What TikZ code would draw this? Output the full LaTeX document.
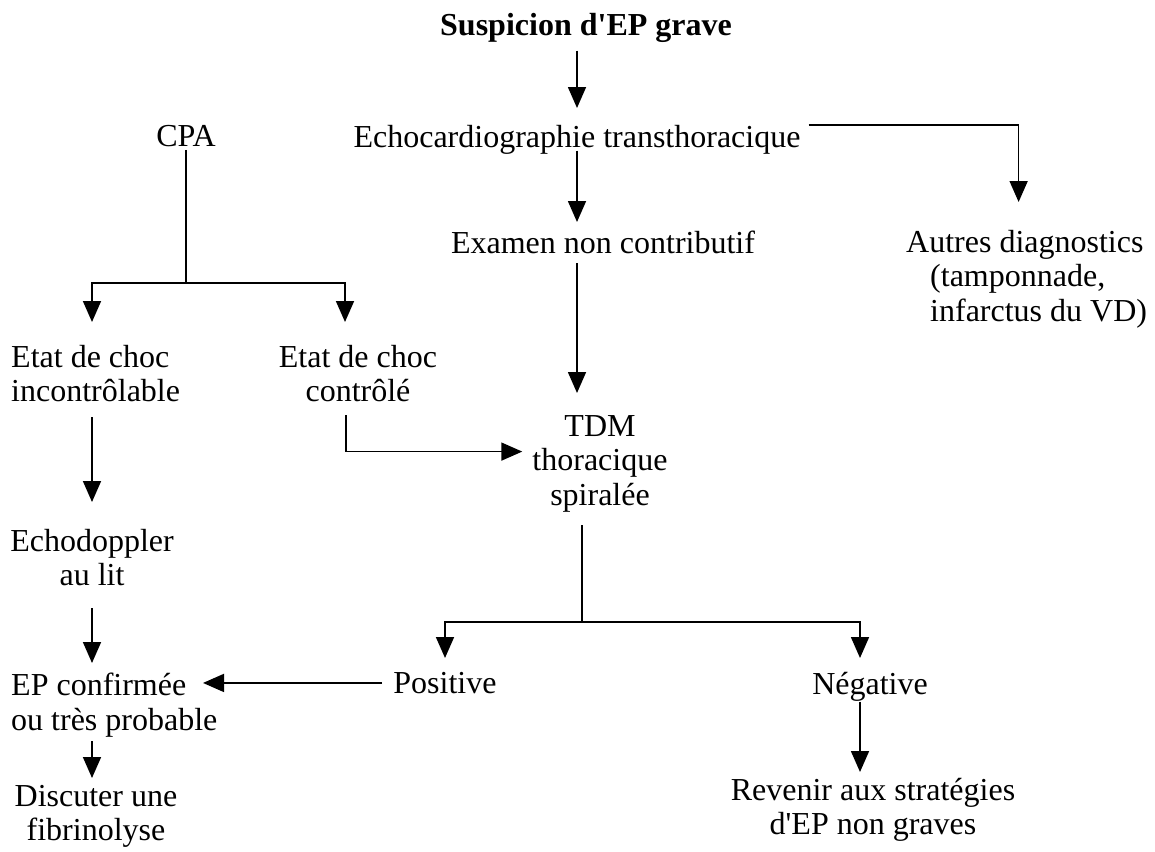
\documentclass[tikz,border=0pt]{standalone}
\usepackage{fontspec}
\setmainfont{Liberation Serif}[Ligatures=TeXOff]
\usetikzlibrary{arrows.meta}

\begin{document}
\begin{tikzpicture}[x=1pt, y=-1pt, line cap=butt, line join=miter,
  lbl/.style={font=\fontsize{32}{34.5}\selectfont, inner sep=0pt, anchor=north, align=center},
  arr/.style={line width=1.7pt, -{Triangle[length=21pt,width=18pt]}},
  ln/.style={line width=1.7pt}]

% --- Page frame (pixels of the original scan) ---
\useasboundingbox (0,0) rectangle (1155,851);

% --- Main column ---
\node[lbl, font=\fontsize{32}{34.5}\selectfont\bfseries] (susp) at (586,13) {Suspicion d'EP grave};
\node[lbl] (echo)   at (577,125) {Echocardiographie transthoracique};
\node[lbl] (examen) at (603,231) {Examen non contributif};
\node[lbl] (tdm)    at (600,415) {TDM\\thoracique\\spiralée};
\node[lbl, anchor=north west, align=left] (autres) at (906,230)
  {Autres diagnostics\\\hspace*{24pt}(tamponnade,\\\hspace*{24pt}infarctus du VD)};

% --- Left branch ---
\node[lbl] (cpa) at (186,125) {CPA};
\node[lbl, anchor=north west, align=left] (incontr) at (11,345) {Etat de choc\\incontrôlable};
\node[lbl] (controle) at (358,345) {Etat de choc\\contrôlé};
\node[lbl] (echodop)  at (92,529) {Echodoppler\\au lit};
\node[lbl, anchor=north west, align=left] (epconf) at (11,673) {EP confirmée\\ou très probable};
\node[lbl] (discuter) at (96,785) {Discuter une\\fibrinolyse};

% --- Bottom row ---
\node[lbl] (positive) at (445,672) {Positive};
\node[lbl] (negative) at (870,672) {Négative};
\node[lbl] (revenir)  at (873,778) {Revenir aux stratégies\\d'EP non graves};

% --- Fork points ---
\coordinate (spine)   at (577,0);
\coordinate (cpafork) at (186,283);
\coordinate (tdmfork) at (582,622);

% --- Connectors ---
\draw[arr, shorten <=8pt, shorten >=17pt] (susp.south -| spine) -- (echo.north -| spine);
\draw[arr, shorten <=-4pt, shorten >=9pt] (echo.south -| spine) -- (examen.north -| spine);
\draw[arr, shorten >=28pt] ([xshift=8pt, yshift=15pt]echo.east) -| ([xshift=-8pt]autres.north);
\draw[arr, shorten <=9pt, shorten >=22pt] (examen.south -| spine) -- (tdm.north -| spine);

\draw[ln, shorten <=3pt] (cpa.south) -- (cpafork);
\draw[arr, shorten >=23pt] (cpafork) -| (incontr.north -| echodop.north);
\draw[arr, shorten >=23pt] (cpafork) -| ([xshift=-13pt]controle.north);
\draw[arr, shorten <=15pt, shorten >=27pt] (echodop.north |- incontr.south) -- (echodop.north);
\draw[arr, shorten <=13pt, shorten >=10pt] ([xshift=-12pt]controle.south) |- ([yshift=12pt]tdm.west);
\draw[arr, shorten <=22pt, shorten >=10pt] (echodop.south) -- (echodop.south |- epconf.north);
\draw[arr, shorten <=4pt, shorten >=7pt] (epconf.south -| echodop.south) -- (discuter.north -| echodop.south);

\draw[ln, shorten <=13pt] (tdm.south -| tdmfork) -- (tdmfork);
\draw[arr, shorten >=14pt] (tdmfork) -| (positive.north);
\draw[arr, shorten >=14pt] (tdmfork) -| ([xshift=-10pt]negative.north);
\draw[arr, shorten <=11pt] (positive.west) -- ([xshift=192pt]epconf.west |- positive.west);
\draw[arr, shorten >=6pt] ([xshift=-10pt]negative.south) -- ([xshift=-10pt]negative.south |- revenir.north);

\end{tikzpicture}
\end{document}
